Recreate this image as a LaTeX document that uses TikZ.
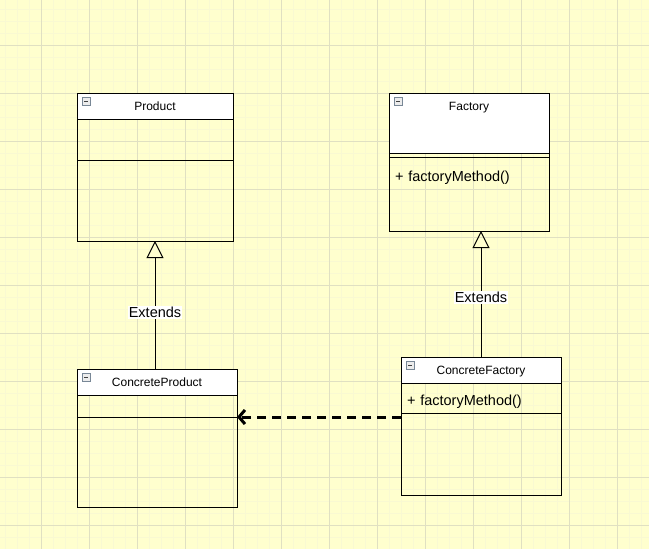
\documentclass[tikz,border=0pt]{standalone}
\usepackage{fontspec}
\setmainfont{Liberation Sans}
\usetikzlibrary{positioning,arrows.meta}
\definecolor{paper}{RGB}{255,255,206}
\definecolor{gridmajor}{RGB}{224,224,194}
\definecolor{gridminor}{RGB}{249,249,210}
\definecolor{iconline}{RGB}{120,135,150}
\tikzset{
    head/.style={draw, line width=1pt, fill=white, minimum width=#1, inner sep=0, outer sep=0,
        anchor=north west, text height=17.5pt, text depth=8.5pt, font=\fontsize{12}{14}\selectfont},
    compart/.style={draw, line width=1pt, minimum width=160pt, minimum height=#1, inner sep=0,
        outer sep=0, text height=0pt, text depth=0pt},
    method/.style={draw, line width=1pt, inner sep=0, inner xsep=6pt, outer sep=0, text width=148pt,
        align=left, font=\fontsize{14.5}{17}\selectfont},
    icon/.style={draw=iconline, fill=gray!15, minimum size=8pt, inner sep=0, anchor=north west,
        path picture={\draw[black!75, line width=1pt] ([xshift=2pt]path picture bounding box.west) -- ([xshift=-2pt]path picture bounding box.east);}},
    extends/.style={draw, line width=1pt, -{Triangle[open, length=17pt, width=17pt]}},
    depends/.style={draw, line width=3pt, dash pattern=on 9pt off 6pt, -{Straight Barb[length=6pt, width=14pt]}},
    lbl/.style={fill=white, inner sep=1pt, font=\fontsize{14.5}{17}\selectfont}
}
\begin{document}
\begin{tikzpicture}[x=1pt, y=-1pt]
    \useasboundingbox (0,0) rectangle (649,549);
    % grid paper
    \fill[paper] (0,0) rectangle (649,549);
    \foreach \x in {5,17,...,649} \draw[gridminor, line width=1pt] (\x,0) -- (\x,549);
    \foreach \y in {9,21,...,549} \draw[gridminor, line width=1pt] (0,\y) -- (649,\y);
    \foreach \x in {41,89,...,649} \draw[gridmajor, line width=1pt] (\x,0) -- (\x,549);
    \foreach \y in {45,93,...,549} \draw[gridmajor, line width=1pt] (0,\y) -- (649,\y);

    % Product
    \node[head=156pt] (product) at (77,93) {Product};
    \node[compart=41pt, minimum width=156pt, below=0pt of product] (productattr) {};
    \node[compart=81pt, minimum width=156pt, below=0pt of productattr] (productops) {};
    \node[icon] (producticon) at ([shift={(5,4)}]product.north west) {};

    % Factory
    \node[head=160pt, text depth=42.5pt] (factory) at (389,93) {Factory};
    \node[compart=4pt, below=0pt of factory] (factoryattr) {};
    \node[method, text height=24pt, text depth=50pt, below=0pt of factoryattr] (factoryops) {+ factoryMethod()};
    \node[icon] (factoryicon) at ([shift={(5,4)}]factory.north west) {};

    % ConcreteProduct
    \node[head=160pt] (cproduct) at (77,369) {ConcreteProduct};
    \node[compart=22pt, below=0pt of cproduct] (cproductattr) {};
    \node[compart=90pt, below=0pt of cproductattr] (cproductops) {};
    \node[icon] (cproducticon) at ([shift={(5,4)}]cproduct.north west) {};

    % ConcreteFactory
    \node[head=160pt] (cfactory) at (401,357) {ConcreteFactory};
    \node[method, text height=22pt, text depth=8pt, below=0pt of cfactory] (cfactoryattr) {+ factoryMethod()};
    \node[compart=82pt, below=0pt of cfactoryattr] (cfactoryops) {};
    \node[icon] (cfactoryicon) at ([shift={(5,4)}]cfactory.north west) {};

    % relations
    \draw[extends] (productops.south |- cproduct.north) -- node[lbl, pos=0.44] {Extends} (productops.south);
    \draw[extends] (cfactory.north) -- node[lbl, pos=0.47] {Extends} (cfactory.north |- factoryops.south);
    \draw[depends] (cfactoryops.west |- cproductattr.south east) -- (cproductattr.south east);
\end{tikzpicture}
\end{document}
